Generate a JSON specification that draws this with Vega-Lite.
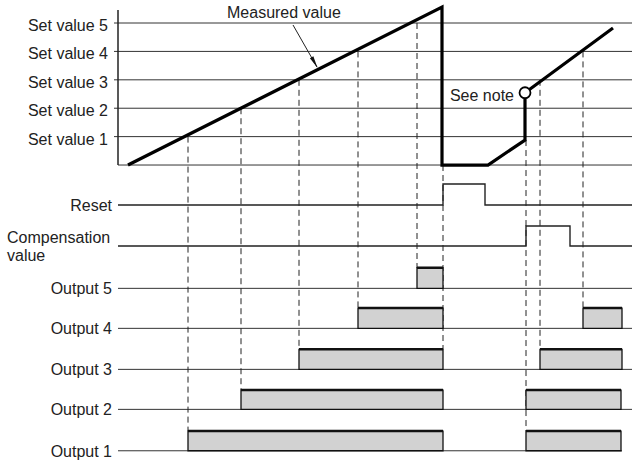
{
  "$schema": "https://vega.github.io/schema/vega-lite/v6.json",
  "width": 632,
  "height": 461,
  "padding": 0,
  "autosize": "none",
  "config": {"view": {"stroke": null}, "text": {"font": "Liberation Sans", "fontSize": 16, "color": "#222"}},
  "datasets": {
    "grid": [
      {"name": "Set value 5", "t": 114, "t2": 632, "u": 5},
      {"name": "Set value 4", "t": 114, "t2": 632, "u": 4},
      {"name": "Set value 3", "t": 114, "t2": 632, "u": 3},
      {"name": "Set value 2", "t": 114, "t2": 632, "u": 2},
      {"name": "Set value 1", "t": 114, "t2": 632, "u": 1},
      {"name": "zero", "t": 118, "t2": 632, "u": 0},
      {"name": "Output 5", "t": 118, "t2": 632, "u": -4.342},
      {"name": "Output 4", "t": 118, "t2": 632, "u": -5.75},
      {"name": "Output 3", "t": 118, "t2": 632, "u": -7.194},
      {"name": "Output 2", "t": 118, "t2": 632, "u": -8.602},
      {"name": "Output 1", "t": 118, "t2": 622, "u": -10.06}
    ],
    "axisline": [{"t": 118, "u": 0, "u2": 5.46}],
    "dashed": [
      {"t": 188, "u": 1, "u2": -9.366},
      {"t": 241, "u": 2, "u2": -7.923},
      {"t": 299, "u": 3, "u2": -6.489},
      {"t": 358, "u": 4, "u2": -5.035},
      {"t": 417, "u": 5, "u2": -3.616},
      {"t": 443, "u": 0, "u2": -6.489},
      {"t": 526, "u": 0.88, "u2": -9.366},
      {"t": 540, "u": 3, "u2": -6.489},
      {"t": 583, "u": 4, "u2": -5.035}
    ],
    "bars": [
      {"output": "Output 5", "t": 417, "t2": 443, "u": -4.342, "u2": -3.616},
      {"output": "Output 4", "t": 358, "t2": 443, "u": -5.75, "u2": -5.035},
      {"output": "Output 4", "t": 583, "t2": 622, "u": -5.75, "u2": -5.035},
      {"output": "Output 3", "t": 299, "t2": 443, "u": -7.194, "u2": -6.489},
      {"output": "Output 3", "t": 540, "t2": 622, "u": -7.194, "u2": -6.489},
      {"output": "Output 2", "t": 241, "t2": 443, "u": -8.602, "u2": -7.923},
      {"output": "Output 2", "t": 526, "t2": 621, "u": -8.602, "u2": -7.923},
      {"output": "Output 1", "t": 188, "t2": 443, "u": -10.06, "u2": -9.366},
      {"output": "Output 1", "t": 526, "t2": 621, "u": -10.06, "u2": -9.366}
    ],
    "pulses": [
      {"signal": "Reset", "i": 0, "t": 118, "u": -1.408},
      {"signal": "Reset", "i": 1, "t": 443, "u": -1.408},
      {"signal": "Reset", "i": 2, "t": 443, "u": -0.669},
      {"signal": "Reset", "i": 3, "t": 485, "u": -0.669},
      {"signal": "Reset", "i": 4, "t": 485, "u": -1.408},
      {"signal": "Reset", "i": 5, "t": 632, "u": -1.408},
      {"signal": "Compensation", "i": 0, "t": 118, "u": -2.852},
      {"signal": "Compensation", "i": 1, "t": 526, "u": -2.852},
      {"signal": "Compensation", "i": 2, "t": 526, "u": -2.148},
      {"signal": "Compensation", "i": 3, "t": 570, "u": -2.148},
      {"signal": "Compensation", "i": 4, "t": 570, "u": -2.852},
      {"signal": "Compensation", "i": 5, "t": 632, "u": -2.852}
    ],
    "measured": [
      {"i": 0, "t": 128, "u": 0},
      {"i": 1, "t": 442, "u": 5.563},
      {"i": 2, "t": 442, "u": 0},
      {"i": 3, "t": 488, "u": 0},
      {"i": 4, "t": 525, "u": 0.88},
      {"i": 5, "t": 525, "u": 2.546},
      {"i": 6, "t": 613, "u": 4.824}
    ],
    "note": [{"t": 525, "u": 2.546}],
    "arrow": [{"t": 293, "u": 4.93, "t2": 317, "u2": 3.451}],
    "arrowhead": [{"t": 314.6, "u": 3.606}],
    "setLabels": [
      {"label": "Set value 5", "t": 108, "u": 5},
      {"label": "Set value 4", "t": 108, "u": 4},
      {"label": "Set value 3", "t": 108, "u": 3},
      {"label": "Set value 2", "t": 108, "u": 2},
      {"label": "Set value 1", "t": 108, "u": 1}
    ],
    "rowLabels": [
      {"label": "Reset", "t": 112, "u": -1.408},
      {"label": "Output 5", "t": 112, "u": -4.342},
      {"label": "Output 4", "t": 112, "u": -5.75},
      {"label": "Output 3", "t": 112, "u": -7.194},
      {"label": "Output 2", "t": 112, "u": -8.602},
      {"label": "Output 1", "t": 112, "u": -10.06}
    ],
    "rightText": [
      {"label": "See note", "t": 514, "u": 2.264}
    ],
    "leftText": [
      {"label": "Compensation\nvalue", "t": 7, "u": -2.746},
      {"label": "Measured value", "t": 227, "u": 5.176}
    ]
  },
  "encoding": {
    "x": {"field": "t", "type": "quantitative", "scale": {"domain": [0, 632], "nice": false, "zero": false}, "axis": null},
    "y": {"field": "u", "type": "quantitative", "scale": {"domain": [-10.42, 5.81], "nice": false, "zero": false}, "axis": null}
  },
  "layer": [
    {"data": {"name": "grid"}, "mark": {"type": "rule", "color": "#333", "strokeWidth": 1}, "encoding": {"x2": {"field": "t2"}}},
    {"data": {"name": "axisline"}, "mark": {"type": "rule", "color": "#222", "strokeWidth": 1.5}, "encoding": {"y2": {"field": "u2"}}},
    {"data": {"name": "dashed"}, "mark": {"type": "rule", "color": "#222", "strokeWidth": 1, "strokeDash": [6, 4]}, "encoding": {"y2": {"field": "u2"}}},
    {"data": {"name": "bars"}, "mark": {"type": "rect", "fill": "#d2d2d2", "stroke": "#111", "strokeWidth": 1.3}, "encoding": {"x2": {"field": "t2"}, "y2": {"field": "u2"}}},
    {"data": {"name": "bars"}, "mark": {"type": "rule", "color": "#111", "strokeWidth": 2.5}, "encoding": {"y": {"field": "u2", "type": "quantitative"}, "x2": {"field": "t2"}}},
    {"data": {"name": "pulses"}, "mark": {"type": "line", "color": "#222", "strokeWidth": 1.4, "interpolate": "linear"}, "encoding": {"detail": {"field": "signal"}, "order": {"field": "i", "type": "quantitative"}}},
    {"data": {"name": "measured"}, "mark": {"type": "line", "color": "#000", "strokeWidth": 3.2, "strokeJoin": "miter"}, "encoding": {"order": {"field": "i", "type": "quantitative"}}},
    {"data": {"name": "note"}, "mark": {"type": "point", "shape": "circle", "size": 120, "filled": true, "fill": "#fff", "stroke": "#000", "strokeWidth": 1.8, "opacity": 1}, "encoding": {}},
    {"data": {"name": "arrow"}, "mark": {"type": "rule", "color": "#222", "strokeWidth": 1}, "encoding": {"x2": {"field": "t2"}, "y2": {"field": "u2"}}},
    {"data": {"name": "arrowhead"}, "mark": {"type": "point", "shape": "M0,-1L0.32,1L-0.32,1Z", "size": 150, "filled": true, "color": "#111", "opacity": 1, "angle": 151}, "encoding": {}},
    {"data": {"name": "setLabels"}, "mark": {"type": "text", "align": "right", "baseline": "alphabetic", "dy": 8}, "encoding": {"text": {"field": "label"}}},
    {"data": {"name": "rowLabels"}, "mark": {"type": "text", "align": "right", "baseline": "alphabetic", "dy": 6}, "encoding": {"text": {"field": "label"}}},
    {"data": {"name": "rightText"}, "mark": {"type": "text", "align": "right", "baseline": "alphabetic"}, "encoding": {"text": {"field": "label"}}},
    {"data": {"name": "leftText"}, "mark": {"type": "text", "align": "left", "baseline": "alphabetic", "lineBreak": "\n", "lineHeight": 18}, "encoding": {"text": {"field": "label"}}}
  ]
}
